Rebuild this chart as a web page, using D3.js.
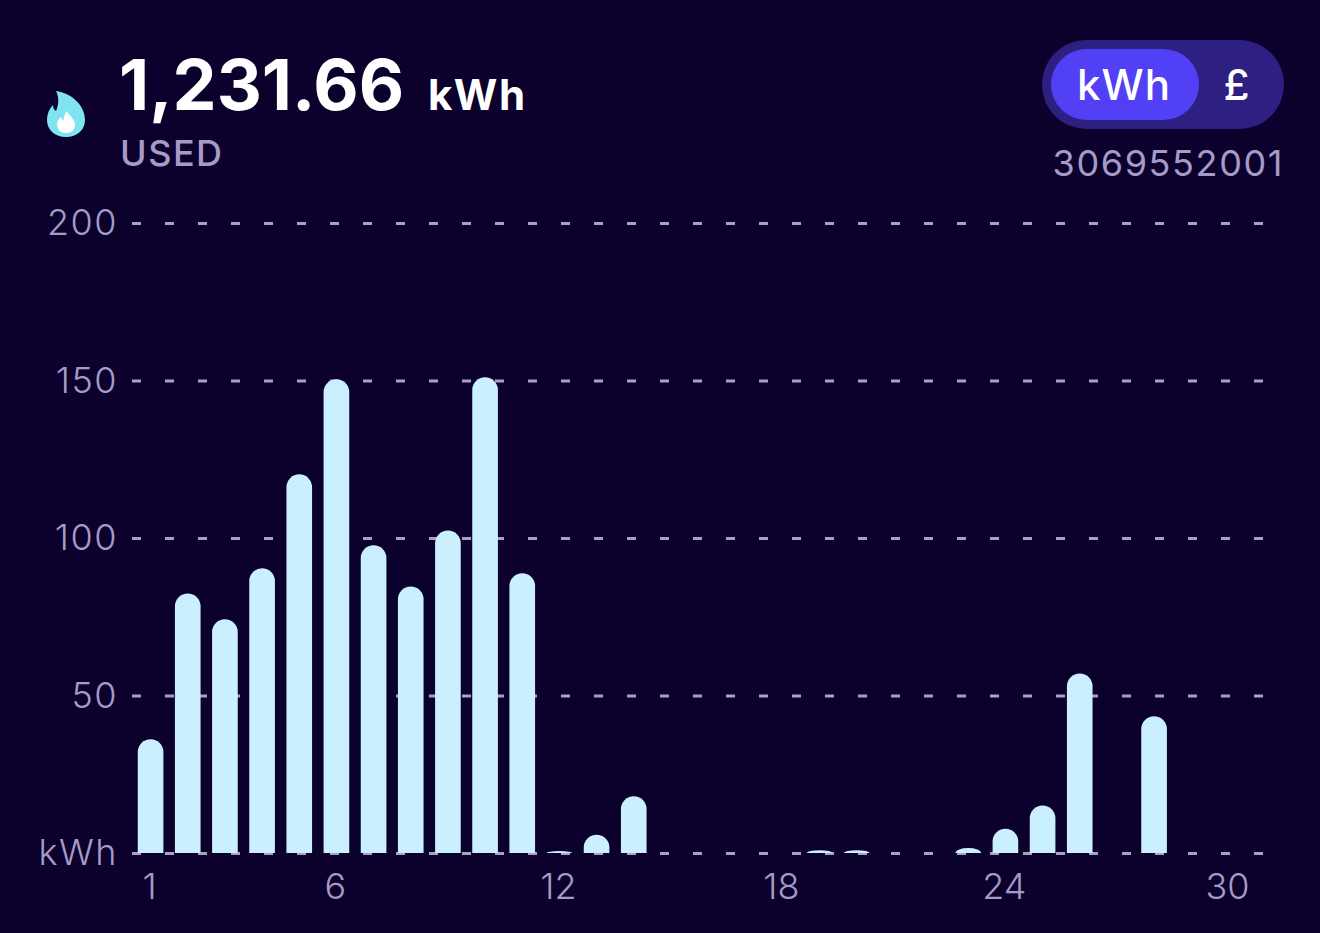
<!DOCTYPE html>
<html>
<head>
<meta charset="utf-8">
<script src="https://cdn.jsdelivr.net/npm/d3@7"></script>
<style>
  html, body { margin: 0; padding: 0; background: #0c012c; }
  svg { display: block; font-family: Inter, sans-serif; }
  .axis .domain { display: none; }
  .y-axis line { stroke: #a99fc9; stroke-width: 3; stroke-dasharray: 9 24; }
  .x-axis line { display: none; }
  .axis text { fill: #a59bc6; font-size: 36px; font-weight: 300; font-family: Inter, sans-serif; }
  .y-axis text { letter-spacing: 1.5px; }
</style>
</head>
<body>
<svg id="chart" width="1320" height="933"></svg>
<script>
// daily usage. 0 means no bar that day
var days = d3.range(1, 31);
var usage = [36.1, 82.4, 74.2, 90.4, 120.2, 150.4, 97.7, 84.6, 102.4, 151,
	88.8, 0.6, 5.8, 18, 0, 0, 0, 0, 0.9, 0.9,
	0, 0, 1.6, 7.7, 15.1, 57, 0, 43.4, 0, 0];
var yTicks = [0, 50, 100, 150, 200];
var xTicks = [1, 6, 12, 18, 24, 30];
var total = "1,231.66";
var unit = "kWh";
var usedLabel = "USED";
var toggleLabels = ["kWh", "£"];
var meterId = "3069552001";

var svg = d3.select("#chart");

var x = d3.scaleBand()
	.domain(days)
	.range([132, 1247])
	.paddingInner(0.31)
	.paddingOuter(0.155);

var y = d3.scaleLinear()
	.domain([0, 200])
	.range([853, 223]);

// grid lines come from the y axis ticks
svg.append("g")
	.attr("class", "axis y-axis")
	.attr("transform", "translate(132,0)")
	.call(d3.axisLeft(y)
		.tickValues(yTicks)
		.tickSize(-1133)
		.tickPadding(14)
		.tickFormat(function(d) { return d === 0 ? unit : d; }));

svg.append("g")
	.attr("class", "axis x-axis")
	.attr("transform", "translate(-1,853)")
	.call(d3.axisBottom(x)
		.tickValues(xTicks)
		.tickSize(0)
		.tickPadding(20));

var bars = days
	.map(function(day, i) { return { day: day, value: usage[i] }; })
	.filter(function(d) { return d.value > 0; });

// bars with rounded tops, radius shrinks on the very short ones
function barPath(d) {
	var x0 = x(d.day);
	var w = x.bandwidth();
	var h = y(0) - y(d.value);
	var rx = w / 2;
	var ry = Math.min(rx, h);
	return "M" + x0 + "," + y(0)
		+ "V" + (y(d.value) + ry)
		+ "A" + rx + "," + ry + " 0 0 1 " + (x0 + w) + "," + (y(d.value) + ry)
		+ "V" + y(0) + "Z";
}

svg.append("g")
	.selectAll("path")
	.data(bars)
	.enter()
	.append("path")
	.attr("d", barPath)
	.attr("fill", "#caf0ff");

// header
svg.append("text")
	.attr("x", 119)
	.attr("y", 110)
	.attr("fill", "#fff")
	.attr("font-size", 70)
	.attr("font-weight", 700)
	.text(total);

svg.append("text")
	.attr("x", 428)
	.attr("y", 110)
	.attr("fill", "#fff")
	.attr("font-size", 42)
	.attr("font-weight", 700)
	.attr("letter-spacing", 1.5)
	.text(unit);

svg.append("text")
	.attr("x", 120)
	.attr("y", 166)
	.attr("fill", "#a59bc6")
	.attr("font-size", 36)
	.attr("font-weight", 500)
	.attr("letter-spacing", 1.5)
	.text(usedLabel);

// flame icon
var flame = svg.append("g").attr("transform", "translate(47,91)");
flame.append("path")
	.attr("d", "M9,0 C24,2 38,14 38,29 C38,39 30,46 19,46 C8,46 0,39 0,29 C0,23 2,18 6,14 C6,17 7,19 9,20 C12,13 12,6 9,0Z")
	.attr("fill", "#80e4f0");
flame.append("path")
	.attr("d", "M19,20 C23,24 28,29 28,34 C28,39 24,42 19,42 C13,42 10,38 10,33 C10,30 12,28 14,26 C15,28 15,29 16,30 C17,26 18,23 19,20Z")
	.attr("fill", "#fff");

// kWh / £ toggle
svg.append("rect")
	.attr("x", 1042).attr("y", 40)
	.attr("width", 242).attr("height", 89)
	.attr("rx", 44.5)
	.attr("fill", "#2e2083");
svg.append("rect")
	.attr("x", 1051).attr("y", 49)
	.attr("width", 148).attr("height", 71)
	.attr("rx", 35.5)
	.attr("fill", "#5140f4");

svg.selectAll(".toggle")
	.data(toggleLabels)
	.enter()
	.append("text")
	.attr("class", "toggle")
	.attr("x", function(d, i) { return i === 0 ? 1124 : 1237; })
	.attr("y", 100)
	.attr("text-anchor", "middle")
	.attr("fill", "#fff")
	.attr("font-size", 42)
	.attr("font-weight", 500)
	.attr("letter-spacing", 1)
	.text(function(d) { return d; });

svg.append("text")
	.attr("x", 1284)
	.attr("y", 176)
	.attr("text-anchor", "end")
	.attr("fill", "#a59bc6")
	.attr("font-size", 36)
	.attr("font-weight", 400)
	.attr("letter-spacing", 1.6)
	.text(meterId);
</script>
</body>
</html>
